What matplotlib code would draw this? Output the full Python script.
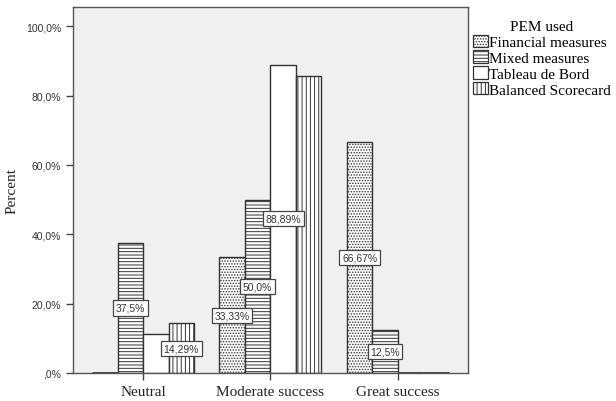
import numpy as np
import matplotlib.pyplot as plt

categories = ['Neutral', 'Moderate success', 'Great success']
series = ['Financial measures', 'Mixed measures', 'Tableau de Bord', 'Balanced Scorecard']
financial = [0.0, 33.33, 66.67]
mixed = [37.5, 50.0, 12.5]
tableau = [11.11, 88.89, 0.0]
bsc = [14.29, 85.71, 0.0]
# labels shown on the chart (None = no label)
labels = {
    'Financial measures': [None, '33,33%', '66,67%'],
    'Mixed measures': ['37,5%', '50,0%', '12,5%'],
    'Tableau de Bord': [None, '88,89%', None],
    'Balanced Scorecard': ['14,29%', None, None],
}
yticks = [0, 20, 40, 60, 80, 100]
ytick_labels = [',0%', '20,0%', '40,0%', '60,0%', '80,0%', '100,0%']

plt.rcParams['hatch.linewidth'] = 0.7
plt.rcParams['hatch.color'] = '#555555'
serif = 'Liberation Serif'
sans = 'Liberation Sans'

fig = plt.figure(figsize=(6.16, 4.02), dpi=100)
ax = fig.add_axes([0.1185, 0.0697, 0.641, 0.910])
ax.set_facecolor('#f0f0f0')

x = np.arange(len(categories))
w = 0.2
values = [financial, mixed, tableau, bsc]
hatches = ['......', '-----', '', '||||']
for i, (name, vals, h) in enumerate(zip(series, values, hatches)):
    xs = x + (i - 1.5) * w
    lw = [2.0 if v == 0 else 1.0 for v in vals]
    ax.bar(xs, vals, w, color='white', edgecolor='#333333', linewidth=lw,
           hatch=h, label=name, zorder=2)
    for xi, v, lab in zip(xs, vals, labels[name]):
        if lab:
            ax.text(xi, v / 2, lab, ha='center', va='center', fontsize=7.5,
                    family=sans, color='#333333', zorder=4,
                    bbox=dict(boxstyle='square,pad=0.25', fc='white', ec='#444444', lw=0.9))

ax.set_xlim(-0.55, 2.55)
ax.set_ylim(0, 105.5)
ax.set_yticks(yticks)
ax.set_yticklabels(ytick_labels, fontsize=7.5, family=sans, color='#333333')
ax.set_xticks(x)
ax.set_xticklabels(categories, fontsize=11, family=serif, color='#222222')
ax.tick_params(axis='both', direction='out', length=5, color='#444444', width=1)
for s in ax.spines.values():
    s.set_color('#555555')
    s.set_linewidth(1.0)
ax.set_ylabel('Percent', fontsize=11, family=serif, color='#222222', labelpad=5)

leg = ax.legend(loc='upper left', bbox_to_anchor=(0.99, 0.99), frameon=False,
                title='PEM used', prop={'family': serif, 'size': 11},
                handlelength=0.95, handleheight=0.85, handletextpad=0.1,
                labelspacing=0.1, borderaxespad=0.2)
leg.get_title().set_family(serif)
leg.get_title().set_fontsize(11)
for hnd in leg.legend_handles:
    hnd.set_linewidth(0.9)

fig.savefig('out.png', dpi=100)
